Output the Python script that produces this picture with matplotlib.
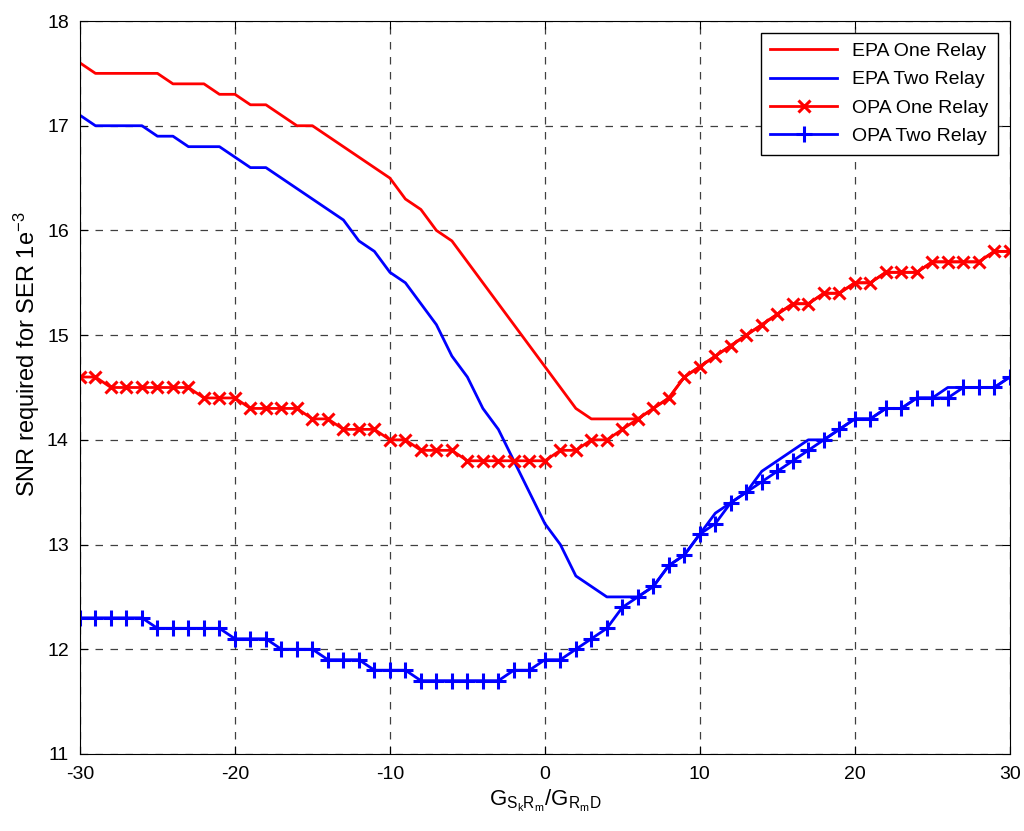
import numpy as np
import matplotlib
matplotlib.use("Agg")
import matplotlib.pyplot as plt

plt.rcParams['font.family'] = ['Liberation Sans', 'DejaVu Sans']
plt.rcParams['mathtext.fontset'] = 'custom'
plt.rcParams['mathtext.rm'] = 'Liberation Sans'
plt.rcParams['mathtext.it'] = 'Liberation Sans'
plt.rcParams['axes.unicode_minus'] = False

# gain ratio in dB
gain_ratio = np.arange(-30, 31)

epa_one = [17.6, 17.5, 17.5, 17.5, 17.5, 17.5, 17.4, 17.4, 17.4, 17.3,
           17.3, 17.2, 17.2, 17.1, 17.0, 17.0, 16.9, 16.8, 16.7, 16.6,
           16.5, 16.3, 16.2, 16.0, 15.9, 15.7, 15.5, 15.3, 15.1, 14.9,
           14.7, 14.5, 14.3, 14.2, 14.2, 14.2, 14.2, 14.3, 14.4, 14.6,
           14.7, 14.8, 14.9, 15.0, 15.1, 15.2, 15.3, 15.3, 15.4, 15.4,
           15.5, 15.5, 15.6, 15.6, 15.6, 15.7, 15.7, 15.7, 15.7, 15.8,
           15.8]

epa_two = [17.1, 17.0, 17.0, 17.0, 17.0, 16.9, 16.9, 16.8, 16.8, 16.8,
           16.7, 16.6, 16.6, 16.5, 16.4, 16.3, 16.2, 16.1, 15.9, 15.8,
           15.6, 15.5, 15.3, 15.1, 14.8, 14.6, 14.3, 14.1, 13.8, 13.5,
           13.2, 13.0, 12.7, 12.6, 12.5, 12.5, 12.5, 12.6, 12.8, 12.9,
           13.1, 13.3, 13.4, 13.5, 13.7, 13.8, 13.9, 14.0, 14.0, 14.1,
           14.2, 14.2, 14.3, 14.3, 14.4, 14.4, 14.5, 14.5, 14.5, 14.5,
           14.6]

opa_one = [14.6, 14.6, 14.5, 14.5, 14.5, 14.5, 14.5, 14.5, 14.4, 14.4,
           14.4, 14.3, 14.3, 14.3, 14.3, 14.2, 14.2, 14.1, 14.1, 14.1,
           14.0, 14.0, 13.9, 13.9, 13.9, 13.8, 13.8, 13.8, 13.8, 13.8,
           13.8, 13.9, 13.9, 14.0, 14.0, 14.1, 14.2, 14.3, 14.4, 14.6,
           14.7, 14.8, 14.9, 15.0, 15.1, 15.2, 15.3, 15.3, 15.4, 15.4,
           15.5, 15.5, 15.6, 15.6, 15.6, 15.7, 15.7, 15.7, 15.7, 15.8,
           15.8]

opa_two = [12.3, 12.3, 12.3, 12.3, 12.3, 12.2, 12.2, 12.2, 12.2, 12.2,
           12.1, 12.1, 12.1, 12.0, 12.0, 12.0, 11.9, 11.9, 11.9, 11.8,
           11.8, 11.8, 11.7, 11.7, 11.7, 11.7, 11.7, 11.7, 11.8, 11.8,
           11.9, 11.9, 12.0, 12.1, 12.2, 12.4, 12.5, 12.6, 12.8, 12.9,
           13.1, 13.2, 13.4, 13.5, 13.6, 13.7, 13.8, 13.9, 14.0, 14.1,
           14.2, 14.2, 14.3, 14.3, 14.4, 14.4, 14.4, 14.5, 14.5, 14.5,
           14.6]

fig = plt.figure(figsize=(10.24, 8.31), dpi=100)
ax = fig.add_axes([0.0781, 0.0927, 0.908, 0.882])

ax.plot(gain_ratio, epa_one, color='red', lw=2, label='EPA One Relay')
ax.plot(gain_ratio, epa_two, color='blue', lw=2, label='EPA Two Relay')
ax.plot(gain_ratio, opa_one, color='red', lw=2, marker='x', ms=8, mew=2.2,
        label='OPA One Relay')
ax.plot(gain_ratio, opa_two, color='blue', lw=2, marker='+', ms=12, mew=2.2,
        label='OPA Two Relay')

ax.set_xlim(-30, 30)
ax.set_ylim(11, 18)
ax.set_xticks(np.arange(-30, 31, 10))
ax.set_yticks(np.arange(11, 19, 1))
ax.tick_params(direction='in', top=True, right=True, labelsize=14, length=6)
ax.tick_params(axis='y', pad=8)
ax.tick_params(axis='x', pad=9)
ax.grid(True, color='black', linestyle=(0, (6, 6)), linewidth=0.9, alpha=0.75)

ax.set_xlabel(r'$\mathrm{G_{S_kR_m}/G_{R_mD}}$', fontsize=16, labelpad=3)
ax.set_ylabel(r'SNR required for SER 1e$^{-3}$', fontsize=17)
ax.yaxis.set_label_coords(-0.041, 0.545)

leg = ax.legend(loc='upper right', fontsize=14, fancybox=False,
                edgecolor='black', framealpha=1, handlelength=3.4,
                labelspacing=0.55, borderaxespad=0.6, borderpad=0.5)
leg.get_frame().set_linewidth(1.0)

fig.savefig('out.png', dpi=100)
